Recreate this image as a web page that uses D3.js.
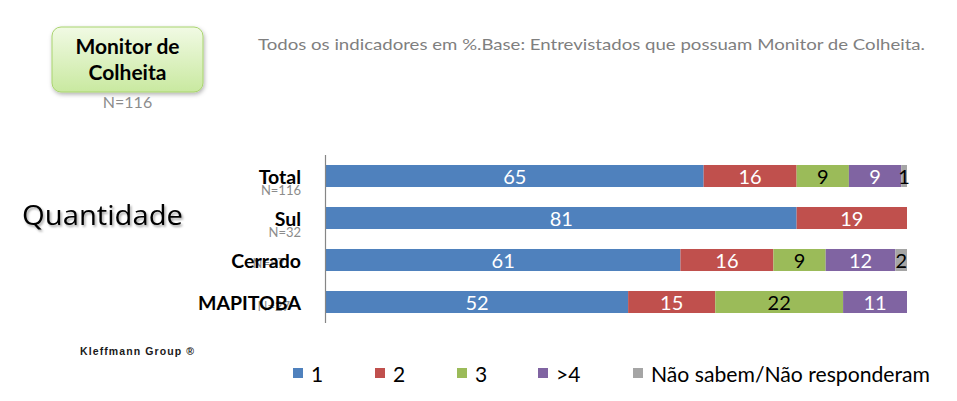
<!DOCTYPE html>
<html><head><meta charset="utf-8">
<script src="https://cdn.jsdelivr.net/npm/d3@7/dist/d3.min.js"></script>
<style>body{margin:0;background:#fff;} svg{display:block;}</style>
</head><body>
<script>
const categories = ["Total", "Sul", "Cerrado", "MAPITOBA"];
const nLabels = ["N=116", "N=32", "N=57", "N=27"];
const seriesNames = ["1", "2", "3", ">4", "Não sabem/Não responderam"];
const s1 = [65, 81, 61, 52];
const s2 = [16, 19, 16, 15];
const s3 = [9, 0, 9, 22];
const s4 = [9, 0, 12, 11];
const sNS = [1, 0, 2, 0];
const colors = ["#4f81bd", "#c0504d", "#9bbb59", "#8064a2", "#a5a5a5"];
const labelColors = ["#fff", "#fff", "#000", "#fff", "#000"];

const W = 957, H = 401;
const svg = d3.select("body").append("svg").attr("width", W).attr("height", H);
const defs = svg.append("defs");
const g1 = defs.append("linearGradient").attr("id", "boxg").attr("x1", 0).attr("y1", 0).attr("x2", 0).attr("y2", 1);
g1.append("stop").attr("offset", "0%").attr("stop-color", "#f1fae4");
g1.append("stop").attr("offset", "100%").attr("stop-color", "#c9e9a0");
const f = defs.append("filter").attr("id", "sh").attr("x", "-20%").attr("y", "-20%").attr("width", "140%").attr("height", "150%");
f.append("feDropShadow").attr("dx", 1).attr("dy", 2).attr("stdDeviation", 2).attr("flood-color", "#000").attr("flood-opacity", 0.3);
const f2 = defs.append("filter").attr("id", "tsh").attr("x", "-10%").attr("y", "-20%").attr("width", "120%").attr("height", "160%");
f2.append("feDropShadow").attr("dx", 1.5).attr("dy", 2).attr("stdDeviation", 1.2).attr("flood-color", "#000").attr("flood-opacity", 0.35);

const FONT = "Lato, 'Open Sans', sans-serif";

// Title box
svg.append("rect").attr("x", 52).attr("y", 27).attr("width", 151).attr("height", 65).attr("rx", 9)
  .attr("fill", "url(#boxg)").attr("stroke", "#a9d46e").attr("stroke-width", 1).attr("filter", "url(#sh)");
svg.append("text").attr("x", 127.5).attr("y", 54).attr("text-anchor", "middle")
  .attr("font-family", FONT).attr("font-weight", "bold").attr("font-size", 21).attr("fill", "#000").text("Monitor de");
svg.append("text").attr("x", 127.5).attr("y", 80).attr("text-anchor", "middle")
  .attr("font-family", FONT).attr("font-weight", "bold").attr("font-size", 21).attr("fill", "#000").text("Colheita");
svg.append("text").attr("x", 127.5).attr("y", 108).attr("text-anchor", "middle")
  .attr("font-family", FONT).attr("font-size", 16).attr("fill", "#8c8c8c").text("N=116");

// Subtitle
svg.append("text").attr("x", 258).attr("y", 50)
  .attr("font-family", FONT).attr("font-size", 15).attr("fill", "#7f7f7f")
  .attr("textLength", 667).attr("lengthAdjust", "spacingAndGlyphs")
  .text("Todos os indicadores em %.Base: Entrevistados que possuam Monitor de Colheita.");

// Quantidade
svg.append("text").attr("x", 22).attr("y", 225)
  .attr("font-family", "'Open Sans', Lato, sans-serif").attr("font-size", 27).attr("fill", "#000")
  .attr("textLength", 161).attr("lengthAdjust", "spacingAndGlyphs").attr("filter", "url(#tsh)")
  .text("Quantidade");

// Scales
const x = d3.scaleLinear().domain([0, 100]).range([326, 907]);
const y = d3.scaleBand().domain(categories).range([155, 323]).paddingInner(0.476).paddingOuter(0.238);

const series = [s1, s2, s3, s4, sNS];
const rows = categories.map((c, i) => {
  let acc = 0;
  return series.map((s, k) => { const v = s[i]; const seg = {cat: c, k, v, x0: acc, x1: acc + v}; acc += v; return seg; });
});

const gb = svg.append("g");
rows.forEach(r => r.filter(d => d.v > 0).forEach(d => {
  gb.append("rect").attr("x", x(d.x0)).attr("y", y(d.cat)).attr("width", x(d.x1) - x(d.x0)).attr("height", y.bandwidth())
    .attr("fill", colors[d.k]);
}));
rows.forEach(r => r.filter(d => d.v > 0).forEach(d => {
  gb.append("text").attr("x", (x(d.x0) + x(d.x1)) / 2).attr("y", y(d.cat) + y.bandwidth() / 2 + 7.5)
    .attr("text-anchor", "middle").attr("font-family", FONT).attr("font-size", 20)
    .attr("fill", labelColors[d.k]).text(d.v);
}));

// Axis line
svg.append("line").attr("x1", 325.5).attr("x2", 325.5).attr("y1", 155).attr("y2", 323).attr("stroke", "#868686").attr("stroke-width", 1.2);

// N labels (behind category names, as in the reference)
const nOff = [[301, 19], [301, 19], [285, 8], [290, 9]];
categories.forEach((c, i) => {
  svg.append("text").attr("x", nOff[i][0]).attr("y", y(c) + y.bandwidth() / 2 + nOff[i][1])
    .attr("text-anchor", "end").attr("font-family", FONT).attr("font-size", 13).attr("fill", "#8c8c8c").text(nLabels[i]);
});
categories.forEach((c, i) => {
  svg.append("text").attr("x", 301).attr("y", y(c) + y.bandwidth() / 2 + 8)
    .attr("text-anchor", "end").attr("font-family", FONT).attr("font-weight", "bold").attr("font-size", 19.5).attr("fill", "#000").text(c);
});

// Kleffmann
svg.append("text").attr("x", 80).attr("y", 355).attr("font-family", "'Liberation Sans', Arial, sans-serif").attr("font-weight", "bold")
  .attr("font-size", 10.5).attr("letter-spacing", 1.1).attr("fill", "#1a1a1a").text("Kleffmann Group ®");

// Legend
const legX = [293, 375, 457, 538, 633];
seriesNames.forEach((n, k) => {
  svg.append("rect").attr("x", legX[k]).attr("y", 368).attr("width", 10).attr("height", 10).attr("fill", colors[k]);
  const t = svg.append("text").attr("x", legX[k] + 18).attr("y", 382).attr("font-family", FONT).attr("font-size", 21).attr("fill", "#000").text(n);
  if (k === 4) t.attr("textLength", 279).attr("lengthAdjust", "spacingAndGlyphs");
});
</script>
</body></html>
